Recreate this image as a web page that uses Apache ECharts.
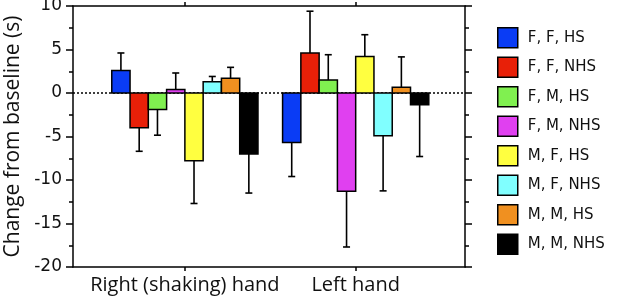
<!DOCTYPE html>
<html>
<head>
<meta charset="utf-8">
<script src="https://cdn.jsdelivr.net/npm/echarts@6/dist/echarts.min.js"></script>
<style>
html,body{margin:0;padding:0;background:#fff;}
#chart{width:617px;height:301px;}
</style>
</head>
<body>
<div id="chart"></div>
<script>
// categories (x positions 1 and 2)
var categories = ['Right (shaking) hand', 'Left hand'];
var groupNames = ['F, F, HS', 'F, F, NHS', 'F, M, HS', 'F, M, NHS', 'M, F, HS', 'M, F, NHS', 'M, M, HS', 'M, M, NHS'];
var groupColors = ['#0a3cf5', '#e82008', '#80f050', '#e040f0', '#ffff40', '#80ffff', '#f09020', '#000000'];

// mean change from baseline (s)
var rightMeans = [2.6, -4.0, -1.9, 0.4, -7.8, 1.3, 1.7, -7.0];
var leftMeans = [-5.7, 4.6, 1.5, -11.3, 4.2, -4.9, 0.65, -1.35];
// error bar lengths (s)
var rightErr = [2.0, 2.7, 2.95, 1.9, 4.9, 0.6, 1.25, 4.5];
var leftErr = [3.9, 4.8, 2.9, 6.4, 2.5, 6.35, 3.5, 5.95];

var yTicks = {min: -20, max: 10, interval: 5};

var myChart = echarts.init(document.getElementById('chart'));

var barW = 0.107; // width of one bar in x units
var fontAxis = 'DejaVu Sans';

function makeRender(idx)
{
	return function(params, api)
	{
		var x = api.value(0) + (idx - 3.5) * barW;
		var v = api.value(1);
		var e = api.value(2);
		var p0 = api.coord([x, 0]);
		var p1 = api.coord([x, v]);
		var w = api.size([barW, 0])[0];
		var pe = api.coord([x, v >= 0 ? v + e : v - e]);
		var top = Math.min(p0[1], p1[1]);
		var h = Math.abs(p0[1] - p1[1]);
		return {
			type: 'group',
			children: [
				{type: 'line', shape: {x1: p1[0], y1: p1[1], x2: pe[0], y2: pe[1]}, style: {stroke: '#000', lineWidth: 1.6}},
				{type: 'line', shape: {x1: pe[0] - 3.5, y1: pe[1], x2: pe[0] + 3.5, y2: pe[1]}, style: {stroke: '#000', lineWidth: 1.6}},
				{type: 'rect', shape: {x: p0[0] - w / 2, y: top, width: w, height: h}, style: {fill: groupColors[idx], stroke: '#000', lineWidth: 1.5}}
			]
		};
	};
}

var series = [];
for (var i = 0; i < groupNames.length; i++)
{
	var s = {
		name: groupNames[i],
		type: 'custom',
		xAxisIndex: 0,
		yAxisIndex: 0,
		itemStyle: {color: groupColors[i], borderColor: '#000', borderWidth: 1.5},
		encode: {x: 0, y: 1},
		renderItem: makeRender(i),
		data: [[1, rightMeans[i], rightErr[i]], [2, leftMeans[i], leftErr[i]]],
		z: 3
	};
	series.push(s);
}
// dotted zero line
series[0].markLine = {
	silent: true,
	symbol: 'none',
	label: {show: false},
	lineStyle: {type: [2, 2], color: '#000', width: 1.5},
	data: [{yAxis: 0}],
	z: 1
};

var xMin = 0.345, xMax = 2.64;

var option = {
	backgroundColor: '#fff',
	animation: false,
	grid: {left: 73, right: 152, top: 6, bottom: 34, outerBoundsMode: 'none', containLabel: false},
	legend: {
		orient: 'vertical',
		left: 492,
		top: 22,
		itemWidth: 20,
		itemHeight: 20,
		itemGap: 8,
		icon: 'rect',
		itemStyle: {borderColor: '#000', borderWidth: 1.5},
		textStyle: {fontFamily: fontAxis, fontSize: 15, color: '#111', padding: [0, 0, 0, 5]},
		data: groupNames
	},
	xAxis: [
		{
			type: 'value', position: 'bottom', min: xMin, max: xMax,
			axisLine: {show: true, onZero: false, lineStyle: {color: '#000', width: 1.5}},
			axisTick: {show: true, customValues: [1, 2], length: 4, lineStyle: {color: '#000', width: 1.5}},
			axisLabel: {
				customValues: [1, 2], margin: 8, color: '#111',
				fontFamily: 'Open Sans', fontSize: 20,
				formatter: function(v){ return categories[Math.round(v) - 1]; }
			},
			splitLine: {show: false}
		},
		{
			type: 'value', position: 'top', min: xMin, max: xMax,
			axisLine: {show: true, onZero: false, lineStyle: {color: '#000', width: 1.5}},
			axisTick: {show: true, customValues: [1, 2], length: 4, lineStyle: {color: '#000', width: 1.5}},
			axisLabel: {show: false},
			splitLine: {show: false}
		}
	],
	yAxis: [
		{
			type: 'value', position: 'left', min: yTicks.min, max: yTicks.max, interval: yTicks.interval,
			name: 'Change from baseline (s)', nameLocation: 'middle', nameGap: 48,
			nameTextStyle: {fontFamily: 'Open Sans', fontSize: 21, color: '#111'},
			axisLine: {show: true, lineStyle: {color: '#000', width: 1.5}},
			axisTick: {show: true, length: 7, lineStyle: {color: '#000', width: 1.5}},
			minorTick: {show: true, splitNumber: 2, length: 4, lineStyle: {color: '#000', width: 1.5}},
			axisLabel: {margin: 11, fontFamily: fontAxis, fontSize: 17, color: '#111'},
			splitLine: {show: false}
		},
		{
			type: 'value', position: 'right', min: yTicks.min, max: yTicks.max, interval: yTicks.interval,
			axisLine: {show: true, lineStyle: {color: '#000', width: 1.5}},
			axisTick: {show: true, length: 7, lineStyle: {color: '#000', width: 1.5}},
			minorTick: {show: true, splitNumber: 2, length: 4, lineStyle: {color: '#000', width: 1.5}},
			axisLabel: {show: false},
			splitLine: {show: false}
		}
	],
	series: series
};

myChart.setOption(option);
</script>
</body>
</html>
